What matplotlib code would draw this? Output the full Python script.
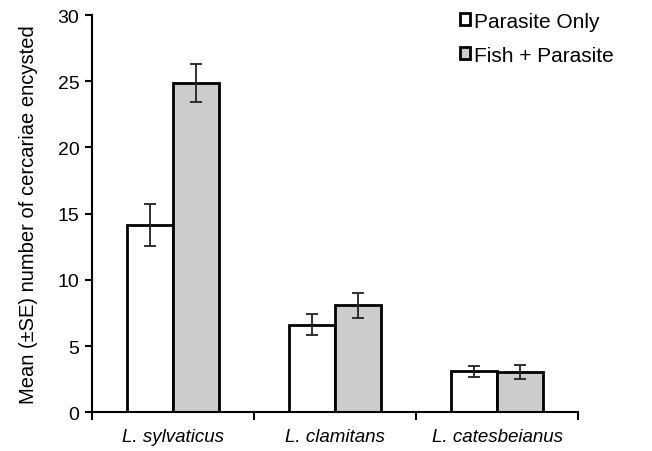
import numpy as np
import matplotlib.pyplot as plt
from matplotlib.patches import Patch

plt.rcParams["font.family"] = ["Liberation Sans", "DejaVu Sans"]

species = ["L. sylvaticus", "L. clamitans", "L. catesbeianus"]
series_names = ["Parasite Only", "Fish + Parasite"]
parasite_only = [14.15, 6.63, 3.1]
parasite_only_se = [1.6, 0.76, 0.42]
fish_parasite = [24.85, 8.07, 3.07]
fish_parasite_se = [1.43, 0.95, 0.53]

fig = plt.figure(figsize=(6.52, 4.52), dpi=100)
ax = fig.add_axes([0.141, 0.0856, 0.746, 0.879])

x = np.arange(len(species))
w = 0.284
err_kw = dict(ecolor="#222222", elinewidth=1.3, capsize=4, capthick=1.3)
ax.bar(x - w / 2, parasite_only, w, yerr=parasite_only_se, color="white",
       edgecolor="black", linewidth=2, error_kw=err_kw, zorder=2)
ax.bar(x + w / 2, fish_parasite, w, yerr=fish_parasite_se, color="#cccccc",
       edgecolor="black", linewidth=2, error_kw=err_kw, zorder=2)

ax.set_xlim(-0.5, len(species) - 0.5)
ax.set_ylim(0, 30)
ax.set_yticks(np.arange(0, 31, 5))
ax.set_xticks(x)
ax.set_xticklabels(species, fontstyle="italic", fontsize=13.5)
ax.set_xticks(np.arange(-0.5, len(species), 1), minor=True)
ax.tick_params(axis="x", which="major", length=0, pad=11)
ax.tick_params(axis="x", which="minor", length=6, width=1.5, direction="out")
ax.tick_params(axis="y", length=5, width=1.5, labelsize=14, pad=4)
for s in ["top", "right"]:
    ax.spines[s].set_visible(False)
for s in ["left", "bottom"]:
    ax.spines[s].set_linewidth(1.5)

ax.set_ylabel("Mean (\u00b1SE) number of cercariae encysted", fontsize=14.5, labelpad=14)

handles = [Patch(facecolor="white", edgecolor="black", linewidth=2),
           Patch(facecolor="#cccccc", edgecolor="black", linewidth=2)]
fig.legend(handles, series_names, loc="upper left", bbox_to_anchor=(0.686, 1.0),
           frameon=False, fontsize=15, handlelength=0.5, handleheight=0.5,
           handletextpad=0.2, labelspacing=0.72, borderaxespad=0.2)

fig.savefig("out.png", dpi=100)
